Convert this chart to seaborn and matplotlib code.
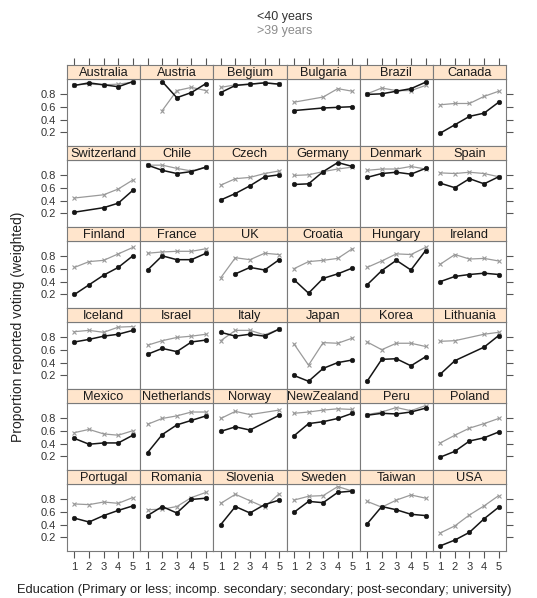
import numpy as np
import pandas as pd
import matplotlib
matplotlib.use("Agg")
import matplotlib.pyplot as plt
import seaborn as sns

sns.set_theme(style="white")
plt.rcParams["font.family"] = ["Liberation Sans", "DejaVu Sans"]

nan = np.nan

countries = [
    "Australia", "Austria", "Belgium", "Bulgaria", "Brazil", "Canada",
    "Switzerland", "Chile", "Czech", "Germany", "Denmark", "Spain",
    "Finland", "France", "UK", "Croatia", "Hungary", "Ireland",
    "Iceland", "Israel", "Italy", "Japan", "Korea", "Lithuania",
    "Mexico", "Netherlands", "Norway", "NewZealand", "Peru", "Poland",
    "Portugal", "Romania", "Slovenia", "Sweden", "Taiwan", "USA",
]

education = [1, 2, 3, 4, 5]

# Proportion voting by education level, respondents under 40
under_40 = [
    [0.93, 0.97, 0.94, 0.91, 0.99], [nan, 0.99, 0.74, 0.82, 0.96],
    [0.82, 0.93, 0.95, 0.97, 0.95], [0.54, nan, 0.58, 0.59, 0.60],
    [0.79, 0.80, 0.84, 0.88, 0.98], [0.19, 0.32, 0.45, 0.50, 0.67],
    [0.22, nan, 0.29, 0.36, 0.56], [0.95, 0.87, 0.82, 0.85, 0.92],
    [0.41, 0.51, 0.63, 0.77, 0.80], [0.65, 0.66, 0.85, 0.99, 0.93],
    [0.76, 0.82, 0.84, 0.81, 0.90], [0.67, 0.60, 0.74, 0.66, 0.77],
    [0.20, 0.35, 0.50, 0.62, 0.80], [0.58, 0.80, 0.74, 0.74, 0.84],
    [nan, 0.52, 0.62, 0.58, 0.74], [0.43, 0.22, 0.45, 0.52, 0.61],
    [0.35, 0.57, 0.73, 0.58, 0.88], [0.40, 0.48, 0.51, 0.53, 0.51],
    [0.72, 0.76, 0.81, 0.84, 0.90], [0.53, 0.62, 0.57, 0.72, 0.75],
    [0.87, 0.81, 0.84, 0.81, 0.92], [0.20, 0.11, 0.31, 0.40, 0.44],
    [0.11, 0.45, 0.46, 0.35, 0.49], [0.22, 0.43, nan, 0.64, 0.82],
    [0.48, 0.39, 0.41, 0.41, 0.53], [0.26, 0.54, 0.69, 0.76, 0.83],
    [0.59, 0.66, 0.61, nan, 0.84], [0.52, 0.71, 0.74, 0.79, 0.87],
    [0.84, 0.87, 0.86, 0.89, 0.95], [0.19, 0.28, 0.44, 0.49, 0.58],
    [0.50, 0.44, 0.54, 0.62, 0.69], [0.54, 0.68, 0.58, 0.79, 0.81],
    [0.40, 0.68, 0.58, 0.71, 0.78], [0.59, 0.76, 0.74, 0.90, 0.92],
    [0.41, 0.68, 0.63, 0.56, 0.54], [0.07, 0.16, 0.28, 0.49, 0.67],
]

# Proportion voting by education level, respondents over 39
over_39 = [
    [0.94, 0.95, 0.94, 0.95, 0.98], [nan, 0.54, 0.85, 0.90, 0.85],
    [0.90, 0.94, 0.95, 0.97, 0.95], [0.67, nan, 0.75, 0.88, 0.84],
    [0.80, 0.89, 0.85, 0.85, 0.93], [0.63, 0.65, 0.65, 0.76, 0.84],
    [0.44, nan, 0.49, 0.58, 0.72], [0.95, 0.95, 0.90, 0.86, 0.92],
    [0.64, 0.74, 0.76, 0.82, 0.86], [0.79, 0.80, 0.85, 0.89, 0.92],
    [0.87, 0.89, 0.89, 0.93, 0.89], [0.83, 0.82, 0.84, 0.82, 0.77],
    [0.62, 0.71, 0.73, 0.83, 0.93], [0.84, 0.86, 0.87, 0.87, 0.91],
    [0.46, 0.77, 0.74, 0.84, 0.82], [0.60, 0.71, 0.73, 0.76, 0.91],
    [0.62, 0.72, 0.83, 0.82, 0.93], [0.67, 0.82, 0.75, 0.76, 0.72],
    [0.88, 0.90, 0.87, 0.95, 0.96], [0.67, 0.74, 0.79, 0.81, 0.84],
    [0.74, 0.90, 0.90, 0.83, 0.92], [0.69, 0.36, 0.71, 0.70, 0.78],
    [0.72, 0.60, 0.70, 0.70, 0.65], [0.73, 0.74, nan, 0.84, 0.87],
    [0.57, 0.62, 0.55, 0.53, 0.60], [0.70, 0.79, 0.83, 0.89, 0.89],
    [0.79, 0.90, 0.85, nan, 0.92], [0.87, 0.89, 0.92, 0.94, 0.93],
    [0.85, 0.89, 0.96, 0.91, 0.99], [0.41, 0.53, 0.64, 0.71, 0.79],
    [0.72, 0.71, 0.75, 0.73, 0.82], [0.63, 0.64, 0.68, 0.82, 0.90],
    [0.73, 0.87, 0.77, 0.67, 0.88], [0.78, 0.84, 0.85, 0.99, 0.92],
    [0.76, 0.67, 0.78, 0.86, 0.81], [0.27, 0.38, 0.55, 0.69, 0.85],
]

age_groups = ["<40 years", ">39 years"]
y_ticks = [0.2, 0.4, 0.6, 0.8]

records = []
for country, young, old in zip(countries, under_40, over_39):
    for edu, vy, vo in zip(education, young, old):
        records.append((country, edu, age_groups[0], vy))
        records.append((country, edu, age_groups[1], vo))
df = pd.DataFrame(records, columns=["country", "education", "age", "vote"]).dropna()

dark, light = "#151515", "#9a9a9a"
styles = {
    age_groups[0]: dict(color=dark, marker="o", markersize=3.3,
                        markerfacecolor=dark, markeredgecolor=dark,
                        markeredgewidth=0.4, linewidth=1.1),
    age_groups[1]: dict(color=light, marker="x", markersize=3.3,
                        markerfacecolor=light, markeredgecolor=light,
                        markeredgewidth=0.8, linewidth=0.9),
}

W, H = 537, 598
fig = plt.figure(figsize=(W / 100, H / 100), dpi=100)

x_left, x_right = 67, 506
top = 65
strip_h, panel_h = 14, 67
pitch = strip_h + panel_h
col_w = (x_right - x_left) / 6
frame_col = "#7a7a7a"
tick_col = "#555555"
label_col = "#333333"
xlim = (0.49, 5.5)
ylim = (-0.01, 1.03)


def fig_rect(px_left, px_top, px_w, px_h):
    return [px_left / W, 1 - (px_top + px_h) / H, px_w / W, px_h / H]


for i, country in enumerate(countries):
    r, c = divmod(i, 6)
    left = x_left + c * col_w
    s_top = top + r * pitch

    ax = fig.add_axes(fig_rect(left, s_top + strip_h, col_w, panel_h))
    sub = df[df["country"] == country]
    # older group first so the under-40 line sits on top
    for age in age_groups[::-1]:
        part = sub[sub["age"] == age]
        sns.lineplot(data=part, x="education", y="vote", ax=ax,
                     errorbar=None, estimator=None, legend=False, **styles[age])
    ax.set_xlim(*xlim)
    ax.set_ylim(*ylim)
    ax.set_xlabel("")
    ax.set_ylabel("")
    ax.set_facecolor("white")
    for sp in ax.spines.values():
        sp.set_color(frame_col)
        sp.set_linewidth(0.8)
    ax.set_xticks(education)
    ax.set_yticks(y_ticks)
    ax.tick_params(axis="both", direction="out", length=5, width=0.8,
                   color=tick_col, labelcolor=label_col, labelsize=8,
                   left=(c == 0), labelleft=(c == 0),
                   right=(c == 5), labelright=False,
                   bottom=(r == 5), labelbottom=(r == 5),
                   top=False, labeltop=False, pad=3)
    if c == 0:
        ax.set_yticklabels([f"{v:.1f}" for v in y_ticks])

    sax = fig.add_axes(fig_rect(left, s_top, col_w, strip_h))
    sax.set_facecolor("#FFE5CC")
    sax.set_xlim(*xlim)
    sax.set_ylim(0, 1)
    for sp in sax.spines.values():
        sp.set_color(frame_col)
        sp.set_linewidth(0.8)
    sax.set_yticks([])
    if r == 0:
        sax.set_xticks(education)
        sax.tick_params(axis="x", direction="out", length=5, width=0.8,
                        color=tick_col, top=True, bottom=False,
                        labeltop=False, labelbottom=False)
    else:
        sax.set_xticks([])
    sax.text(0.5, 0.45, country, transform=sax.transAxes, ha="center",
             va="center", fontsize=9.2, color="#1a1a1a")

fig.text(285 / W, 1 - 17 / H, age_groups[0], ha="center", va="center",
         fontsize=9, color="#333333")
fig.text(285 / W, 1 - 31 / H, age_groups[1], ha="center", va="center",
         fontsize=9, color="#8c8c8c")

fig.text(18 / W, 1 - 327 / H, "Proportion reported voting (weighted)",
         rotation=90, ha="center", va="center", fontsize=10, color="#222222")
fig.text(17 / W, 1 - 590 / H,
         "Education (Primary or less; incomp. secondary; secondary; "
         "post-secondary; university)",
         ha="left", va="center", fontsize=9.3, color="#222222")

fig.savefig("out.png", dpi=100, facecolor="white")
